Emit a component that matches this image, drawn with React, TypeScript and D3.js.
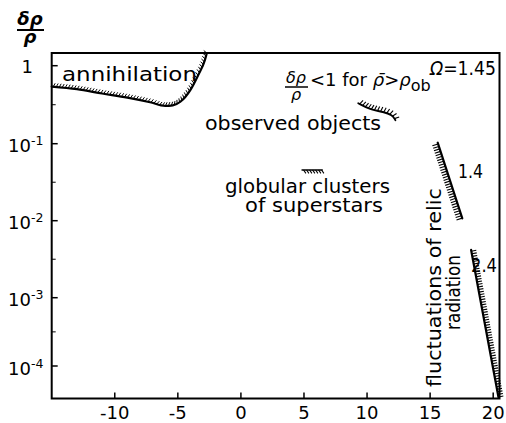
import React, { useEffect, useRef } from "react";
import * as d3 from "d3";

const W = 506;
const H = 423;

const xTicks = [-10, -5, 0, 5, 10, 15, 20];
const yTicks = [1, 0.1, 0.01, 0.001, 0.0001];
const yTickExp = ["", "-1", "-2", "-3", "-4"];
const yMinor = [0.316, 0.0316, 0.00316, 0.000316];

const annX = [-15, -13, -11, -9, -7.2, -6, -5.4, -4.8, -4.0, -3.4, -2.85, -2.7];
const annY = [0.54, 0.5, 0.44, 0.39, 0.34, 0.305, 0.31, 0.345, 0.49, 0.75, 1.17, 1.41];
const obsX = [9.3, 10.3, 11.3, 12.0, 12.25];
const obsY = [0.33, 0.27, 0.257, 0.233, 0.2];
const gloX = [4.85, 6.45];
const gloY = [0.0455, 0.0455];
const r14X = [15.6, 17.55];
const r14Y = [0.103, 0.0107];
const r24X = [18.25, 20.42];
const r24Y = [0.00417, 0.000035];

const FONT = "'DejaVu Sans', sans-serif";

export default function App() {
  const ref = useRef<SVGSVGElement>(null);

  useEffect(() => {
    const svg = d3.select(ref.current);
    svg.selectAll("*").remove();

    const x = d3.scaleLinear().domain([-15, 20.5]).range([51.7, 499.5]);
    const y = d3
      .scaleLog()
      .domain([1.41, 1, 0.1, 0.01, 0.001, 0.0001, 0.000033])
      .range([53, 65.7, 143.7, 220.7, 297.7, 366, 399]);

    const x0 = x.range()[0], x1 = x.range()[1];
    const yTop = 53, yBot = 398.5;

    // frame
    svg.append("rect")
      .attr("x", x0).attr("y", yTop)
      .attr("width", x1 - x0).attr("height", yBot - yTop)
      .attr("fill", "none").attr("stroke", "#000").attr("stroke-width", 2);

    // x ticks
    xTicks.forEach((t) => {
      svg.append("line")
        .attr("x1", x(t)).attr("x2", x(t))
        .attr("y1", yBot).attr("y2", yBot - 6)
        .attr("stroke", "#000").attr("stroke-width", 1.5);
      svg.append("text")
        .attr("x", x(t)).attr("y", 419)
        .attr("text-anchor", "middle")
        .attr("font-family", FONT).attr("font-size", 18)
        .text(String(t));
    });

    // y ticks
    yTicks.forEach((t, i) => {
      svg.append("line")
        .attr("x1", x0).attr("x2", x0 + 6)
        .attr("y1", y(t)).attr("y2", y(t))
        .attr("stroke", "#000").attr("stroke-width", 1.5);
      if (i === 0) {
        svg.append("text")
          .attr("x", 33).attr("y", y(t) + 7.5)
          .attr("text-anchor", "end")
          .attr("font-family", FONT).attr("font-size", 18)
          .text("1");
      } else {
        const tx = svg.append("text")
          .attr("x", 8).attr("y", y(t) + 8.5)
          .attr("font-family", FONT).attr("font-size", 18);
        tx.append("tspan").text("10");
        tx.append("tspan").attr("dy", -7).attr("font-size", 12.5).text(yTickExp[i]);
      }
    });
    yMinor.forEach((t) => {
      svg.append("line")
        .attr("x1", x0).attr("x2", x0 + 4)
        .attr("y1", y(t)).attr("y2", y(t))
        .attr("stroke", "#000").attr("stroke-width", 1);
    });

    // y axis title  δρ / ρ
    svg.append("text")
      .attr("x", 30).attr("y", 25).attr("text-anchor", "middle")
      .attr("font-family", FONT).attr("font-size", 18)
      .attr("font-style", "italic").attr("font-weight", "bold")
      .text("δρ");
    svg.append("line")
      .attr("x1", 17).attr("x2", 44).attr("y1", 30).attr("y2", 30)
      .attr("stroke", "#000").attr("stroke-width", 2);
    svg.append("text")
      .attr("x", 30).attr("y", 43).attr("text-anchor", "middle")
      .attr("font-family", FONT).attr("font-size", 18)
      .attr("font-style", "italic").attr("font-weight", "bold")
      .text("ρ");

    function drawCurve(xs: number[], ys: number[], curve: any, width: number) {
      const pts: [number, number][] = xs.map((v, i) => [x(v), y(ys[i])]);
      const gen = d3.line().curve(curve);
      const p = svg.append("path")
        .attr("d", gen(pts) as string)
        .attr("fill", "none").attr("stroke", "#000")
        .attr("stroke-width", width).attr("stroke-linecap", "round");
      return p.node() as SVGPathElement;
    }

    function hatch(node: SVGPathElement, spacing: number, len: number, side: number, angleDeg: number, sw: number) {
      const total = node.getTotalLength();
      const a = (angleDeg * Math.PI) / 180;
      const g = svg.append("g").attr("stroke", "#000").attr("stroke-width", sw);
      for (let s = spacing / 2; s < total; s += spacing) {
        const p = node.getPointAtLength(s);
        const pa = node.getPointAtLength(Math.max(0, s - 0.6));
        const pb = node.getPointAtLength(Math.min(total, s + 0.6));
        let tx = pb.x - pa.x, ty = pb.y - pa.y;
        const n = Math.hypot(tx, ty) || 1;
        tx /= n; ty /= n;
        const nx = -ty * side, ny = tx * side;
        const dx = nx * Math.cos(a) + tx * Math.sin(a);
        const dy = ny * Math.cos(a) + ty * Math.sin(a);
        g.append("line")
          .attr("x1", p.x).attr("y1", p.y)
          .attr("x2", p.x + dx * len).attr("y2", p.y + dy * len);
      }
    }

    // annihilation curve
    const ann = drawCurve(annX, annY, d3.curveMonotoneX, 2.2);
    hatch(ann, 3, 4, -1, 25, 1);

    // observed objects arc
    const obs = drawCurve(obsX, obsY, d3.curveBasis, 1.8);
    hatch(obs, 3.2, 5, -1, 15, 1.1);

    // globular clusters
    const glo = drawCurve(gloX, gloY, d3.curveLinear, 1.5);
    hatch(glo, 3, 4, 1, 35, 1.1);

    // 1.4 line
    const l14 = drawCurve(r14X, r14Y, d3.curveLinear, 2.2);
    hatch(l14, 2.6, 6, 1, 0, 1.1);

    // 2.4 line
    const l24 = drawCurve(r24X, r24Y, d3.curveLinear, 2.2);
    hatch(l24, 2.6, 5, -1, 0, 1.1);

    const txt = (xx: number, yy: number, s: string, size: number, tl?: number, adj = "spacingAndGlyphs") => {
      const t = svg.append("text")
        .attr("x", xx).attr("y", yy)
        .attr("font-family", FONT).attr("font-size", size)
        .text(s);
      if (tl) t.attr("textLength", tl).attr("lengthAdjust", adj);
      return t;
    };

    txt(62, 81, "annihilation", 19, 135);
    txt(205, 130, "observed objects", 19, 176);
    txt(225, 193, "globular clusters", 19, 165);
    txt(245, 212, "of superstars", 19, 138);
    txt(458, 178, "1.4", 20, 25);
    txt(471, 272, "2.4", 20, 26);

    // Ω = 1.45
    const om = svg.append("text")
      .attr("x", 430).attr("y", 75)
      .attr("font-family", FONT).attr("font-size", 19)
      .attr("textLength", 66).attr("lengthAdjust", "spacingAndGlyphs");
    om.append("tspan").attr("font-style", "italic").text("Ω");
    om.append("tspan").text("=1.45");

    // δρ/ρ < 1 for ρ̄ > ρ_ob
    svg.append("text")
      .attr("x", 296).attr("y", 83).attr("text-anchor", "middle")
      .attr("font-family", FONT).attr("font-size", 16).attr("font-style", "italic")
      .text("δρ");
    svg.append("line")
      .attr("x1", 285).attr("x2", 308).attr("y1", 87).attr("y2", 87)
      .attr("stroke", "#000").attr("stroke-width", 1.5);
    svg.append("text")
      .attr("x", 296).attr("y", 100).attr("text-anchor", "middle")
      .attr("font-family", FONT).attr("font-size", 16).attr("font-style", "italic")
      .text("ρ");
    const cond = svg.append("text")
      .attr("x", 310).attr("y", 86)
      .attr("font-family", FONT).attr("font-size", 18);
    cond.append("tspan").text("<1 for ");
    cond.append("tspan").attr("font-style", "italic").text("ρ\u0304");
    cond.append("tspan").text(">");
    cond.append("tspan").attr("font-style", "italic").text("ρ");
    cond.append("tspan").attr("dy", 5).attr("font-size", 16).text("ob");

    // rotated labels
    svg.append("text")
      .attr("transform", "translate(441,387) rotate(-90)")
      .attr("font-family", FONT).attr("font-size", 19)
      .attr("textLength", 199).attr("lengthAdjust", "spacingAndGlyphs")
      .text("fluctuations of relic");
    svg.append("text")
      .attr("transform", "translate(460,330) rotate(-90)")
      .attr("font-family", FONT).attr("font-size", 19)
      .attr("textLength", 75).attr("lengthAdjust", "spacingAndGlyphs")
      .text("radiation");
  }, []);

  return (
    <svg ref={ref} width={W} height={H} style={{ display: "block", position: "absolute", left: 0, top: 0, background: "#fff" }} />
  );
}
